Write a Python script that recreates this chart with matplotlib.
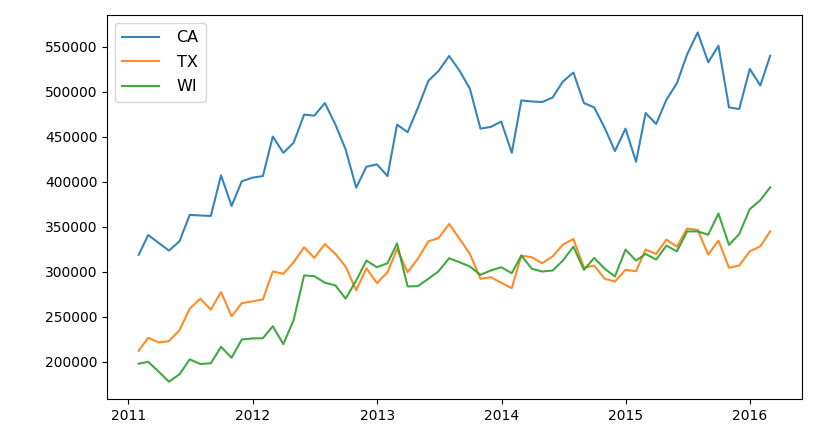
import matplotlib
matplotlib.use("Agg")
import matplotlib.pyplot as plt
import pandas as pd

dates = pd.date_range("2011-01-31", periods=62, freq="ME")

ca = [318700, 340800, 332000, 323500, 333800, 363200, 362500, 362000, 407100, 373200,
      400500, 404500, 406300, 450200, 432100, 443200, 474500, 473400, 487400, 463500,
      435800, 393400, 416700, 419300, 406300, 463500, 455000, 481900, 512100, 523100,
      539700, 523100, 503200, 459000, 460900, 466800, 432100, 490300, 489200, 488500,
      493600, 511300, 521300, 487400, 482600, 459700, 434000, 459000, 422200, 476300,
      464200, 491000, 509500, 541500, 565800, 532700, 551100, 482600, 480700, 525300,
      506900, 540000]

tx = [212200, 226600, 221500, 222900, 235000, 259000, 270100, 257900, 277400, 250500,
      265200, 267100, 269300, 300300, 297700, 310500, 327100, 315400, 330900, 319800,
      305800, 279300, 303900, 287400, 299500, 325300, 299500, 314300, 333800, 337500,
      353000, 336400, 319800, 292200, 294000, 287800, 281800, 318000, 316100, 309500,
      317000, 330100, 336400, 304400, 306900, 292200, 289200, 302100, 300600, 324600,
      319800, 335600, 327900, 348100, 346400, 319100, 334600, 304400, 306900, 322700,
      328200, 344800]

wi = [197800, 200000, 189000, 177900, 186100, 202700, 197500, 198300, 216600, 204500,
      224800, 225900, 226200, 239500, 219600, 246100, 295900, 295100, 287800, 284800,
      270100, 290300, 312400, 305000, 309500, 331500, 283700, 284000, 292200, 300600,
      315000, 310500, 305800, 296600, 301400, 305000, 298400, 318000, 303300, 300300,
      301400, 312400, 327900, 302100, 315400, 303300, 294800, 324600, 312400, 319800,
      313500, 329000, 322700, 344800, 344800, 341200, 364700, 329800, 341900, 369600,
      379500, 393800]

fig = plt.figure(figsize=(8.3, 4.42), dpi=100)
ax = fig.add_axes([0.129, 0.097, 0.837, 0.869])
ax.plot(dates, ca, label="CA", alpha=0.9)
ax.plot(dates, tx, label="TX", alpha=0.9)
ax.plot(dates, wi, label="WI", alpha=0.9)
ax.legend(loc="upper left", fontsize=11.5, handlelength=2.3, handletextpad=1.1,
          labelspacing=0.6, borderpad=0.45)
fig.savefig("out.png", dpi=100)
